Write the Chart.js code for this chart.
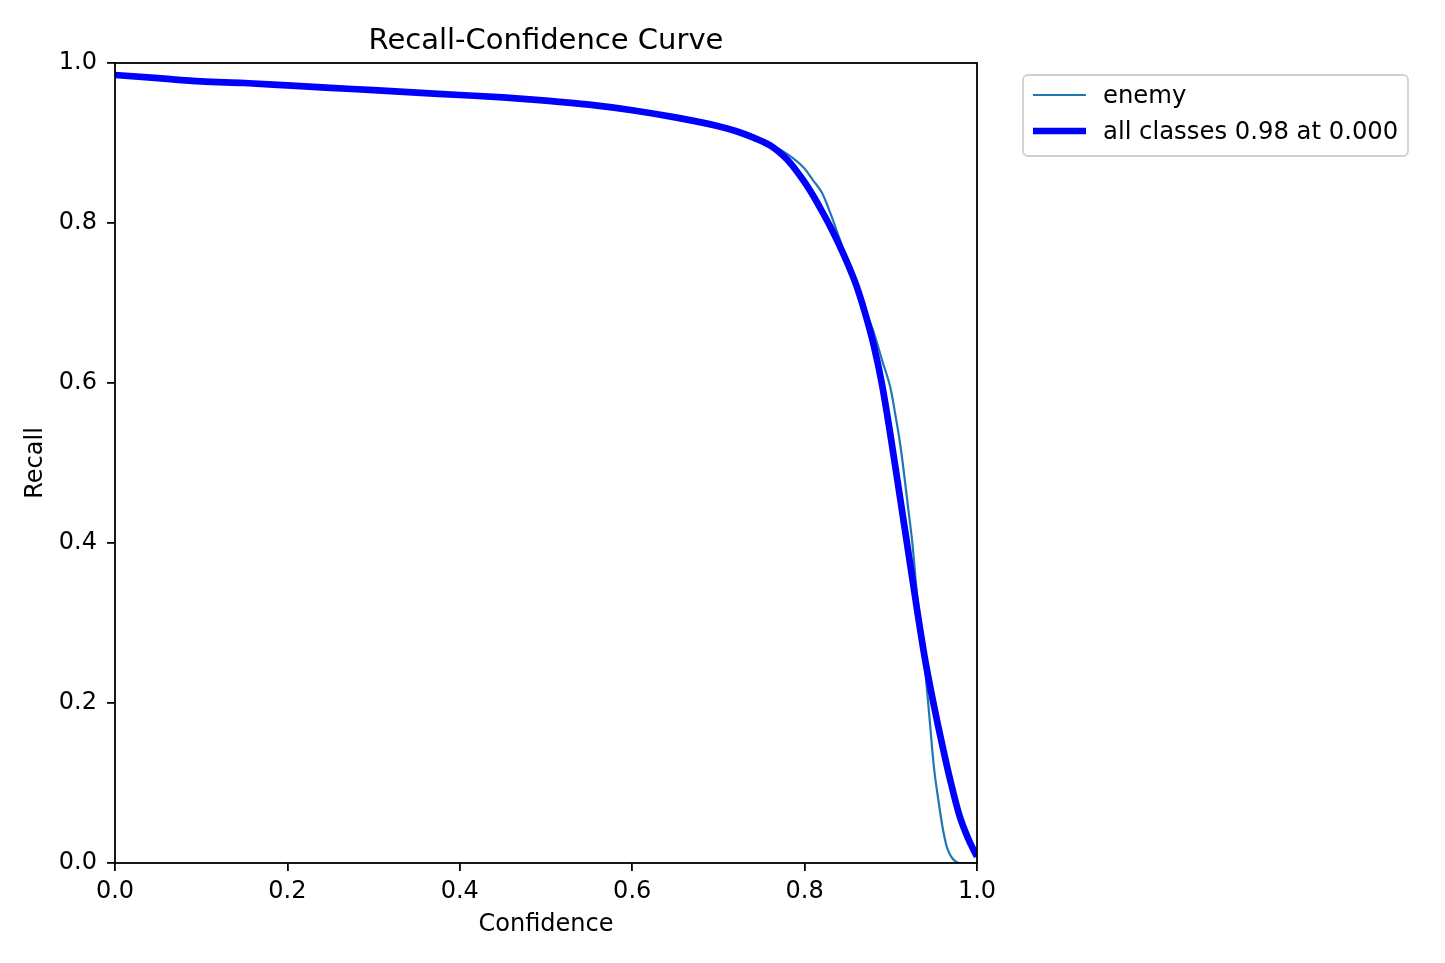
<!DOCTYPE html>
<html>
<head>
<meta charset="utf-8">
<script src="https://cdn.jsdelivr.net/npm/chart.js@4/dist/chart.umd.min.js"></script>
<style>
  html, body { margin: 0; padding: 0; background: #ffffff; }
  #wrap { width: 1445px; height: 963px; }
</style>
</head>
<body>
<div id="wrap"><canvas id="c" width="1445" height="963"></canvas></div>
<script>
// ---- data ----
const chartTitle = "Recall-Confidence Curve";
const xTitle = "Confidence";
const yTitle = "Recall";
const tickValues = [0, 0.2, 0.4, 0.6, 0.8, 1.0];

const labelEnemy = "enemy";
const confEnemy = [0, 0.05, 0.1, 0.15, 0.2, 0.25, 0.3, 0.35, 0.4, 0.45, 0.5, 0.55, 0.6, 0.65, 0.7, 0.72, 0.74, 0.76, 0.77, 0.78, 0.79, 0.8, 0.81, 0.82, 0.83, 0.84, 0.85, 0.86, 0.87, 0.88, 0.89, 0.9, 0.905, 0.91, 0.915, 0.92, 0.925, 0.93, 0.935, 0.94, 0.945, 0.95, 0.955, 0.96, 0.965, 0.97, 0.975, 0.98, 1.0];
const recallEnemy = [0.985, 0.981, 0.977, 0.975, 0.972, 0.969, 0.966, 0.963, 0.960, 0.957, 0.953, 0.948, 0.941, 0.932, 0.921, 0.915, 0.907, 0.898, 0.893, 0.886, 0.878, 0.868, 0.853, 0.838, 0.812, 0.782, 0.752, 0.722, 0.692, 0.664, 0.628, 0.592, 0.562, 0.530, 0.490, 0.445, 0.400, 0.340, 0.290, 0.240, 0.180, 0.120, 0.080, 0.045, 0.020, 0.008, 0.002, 0.0, 0.0];

const labelAll = "all classes 0.98 at 0.000";
const confAll = [0, 0.05, 0.1, 0.15, 0.2, 0.25, 0.3, 0.35, 0.4, 0.45, 0.5, 0.55, 0.6, 0.65, 0.7, 0.72, 0.74, 0.76, 0.77, 0.78, 0.79, 0.8, 0.81, 0.82, 0.83, 0.84, 0.85, 0.86, 0.87, 0.88, 0.89, 0.9, 0.91, 0.92, 0.93, 0.94, 0.95, 0.96, 0.97, 0.98, 0.99, 1.0];
const recallAll = [0.985, 0.981, 0.977, 0.975, 0.972, 0.969, 0.966, 0.963, 0.960, 0.957, 0.953, 0.948, 0.941, 0.932, 0.921, 0.915, 0.907, 0.897, 0.889, 0.879, 0.866, 0.851, 0.834, 0.815, 0.795, 0.773, 0.749, 0.722, 0.688, 0.648, 0.597, 0.532, 0.462, 0.391, 0.320, 0.253, 0.197, 0.146, 0.099, 0.058, 0.030, 0.008];

// ---- chart ----
const FONT = "'DejaVu Sans', 'Liberation Sans', sans-serif";
const toPts = (xs, ys) => xs.map((x, i) => ({ x: x, y: ys[i] }));

const framePlugin = {
  id: 'frame',
  afterDatasetsDraw(chart) {
    const { ctx, chartArea: a } = chart;
    ctx.save();
    ctx.strokeStyle = '#000';
    ctx.lineWidth = 1.8;
    ctx.strokeRect(a.left, a.top, a.right - a.left, a.bottom - a.top);
    ctx.restore();
  }
};

const titlePlugin = {
  id: 'plotTitle',
  afterDraw(chart) {
    const { ctx, chartArea: a } = chart;
    ctx.save();
    ctx.fillStyle = '#000';
    ctx.font = "29px " + FONT;
    ctx.textAlign = 'center';
    ctx.textBaseline = 'alphabetic';
    ctx.fillText(chartTitle, (a.left + a.right) / 2, 49);
    ctx.restore();
  }
};

const legendPlugin = {
  id: 'sideLegend',
  afterDraw(chart) {
    const { ctx } = chart;
    const x0 = 1023, y0 = 75, w = 385, h = 81, r = 5;
    ctx.save();
    ctx.fillStyle = 'rgba(255,255,255,0.8)';
    ctx.strokeStyle = '#d0d0d0';
    ctx.lineWidth = 1.8;
    ctx.beginPath();
    ctx.roundRect(x0, y0, w, h, r);
    ctx.fill();
    ctx.stroke();
    const rows = [1, 0].map(i => chart.data.datasets[i]);
    const ys = [95, 131];
    rows.forEach((ds, k) => {
      ctx.strokeStyle = ds.borderColor;
      ctx.lineWidth = ds.borderWidth;
      ctx.lineCap = 'butt';
      ctx.beginPath();
      ctx.moveTo(1033, ys[k]);
      ctx.lineTo(1086, ys[k]);
      ctx.stroke();
      ctx.fillStyle = '#000';
      ctx.font = "24.3px " + FONT;
      ctx.textAlign = 'left';
      ctx.textBaseline = 'middle';
      ctx.fillText(ds.label, 1103, ys[k] + 2);
    });
    ctx.restore();
  }
};

new Chart(document.getElementById('c'), {
  type: 'line',
  data: {
    datasets: [
      {
        label: labelAll,
        data: toPts(confAll, recallAll),
        borderColor: '#0000ff',
        borderWidth: 6.7,
        pointRadius: 0,
        cubicInterpolationMode: 'monotone',
        fill: false,
        order: 0
      },
      {
        label: labelEnemy,
        data: toPts(confEnemy, recallEnemy),
        borderColor: '#1f77b4',
        borderWidth: 2.2,
        pointRadius: 0,
        cubicInterpolationMode: 'monotone',
        fill: false,
        order: 1
      }
    ]
  },
  options: {
    responsive: false,
    animation: false,
    devicePixelRatio: 1,
    layout: { padding: { left: 0, right: 468, top: 63, bottom: 0 } },
    plugins: {
      legend: { display: false },
      title: { display: false },
      tooltip: { enabled: false }
    },
    scales: {
      x: {
        type: 'linear',
        min: 0, max: 1,
        afterFit(s) { s.height = 100; },
        afterBuildTicks(s) { s.ticks = tickValues.map(v => ({ value: v })); },
        ticks: {
          color: '#000',
          font: { family: FONT, size: 24 },
          padding: 6,
          maxRotation: 0,
          callback: v => Number(v).toFixed(1)
        },
        grid: { drawOnChartArea: false, drawTicks: true, tickLength: 8, color: '#000', lineWidth: 1.8 },
        border: { display: false },
        title: {
          display: true, text: xTitle, color: '#000',
          font: { family: FONT, size: 24, lineHeight: 1.2 },
          padding: { top: 0, bottom: 24 }
        }
      },
      y: {
        type: 'linear',
        min: 0, max: 1,
        afterFit(s) { s.width = 115; },
        afterBuildTicks(s) { s.ticks = tickValues.map(v => ({ value: v })); },
        ticks: {
          color: '#000',
          font: { family: FONT, size: 24 },
          padding: 10,
          callback: v => Number(v).toFixed(1)
        },
        grid: { drawOnChartArea: false, drawTicks: true, tickLength: 8, color: '#000', lineWidth: 1.8 },
        border: { display: false },
        title: {
          display: true, text: yTitle, color: '#000',
          font: { family: FONT, size: 24, lineHeight: 1.2 },
          padding: { top: 21, bottom: 0 }
        }
      }
    }
  },
  plugins: [framePlugin, titlePlugin, legendPlugin]
});
</script>
</body>
</html>
